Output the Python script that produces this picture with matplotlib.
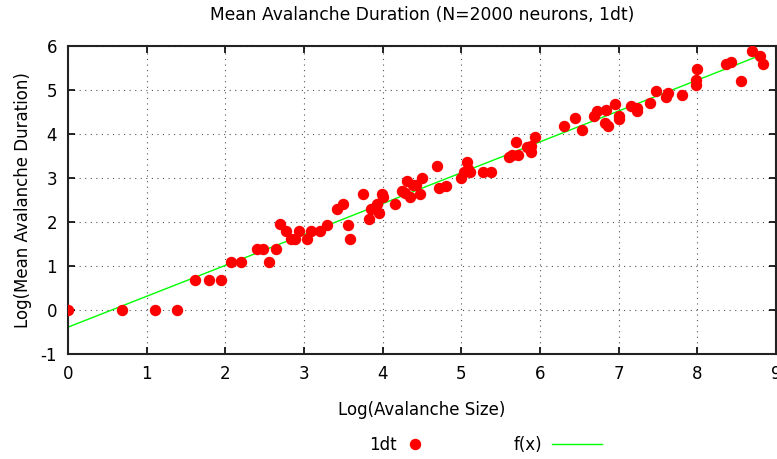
import matplotlib.pyplot as plt
import numpy as np

plt.rcParams['axes.unicode_minus'] = False

# log(avalanche size), log(mean duration)
log_size = [0.0, 0.69, 1.1, 1.39, 1.61, 1.79, 1.94, 2.07, 2.2, 2.4, 2.48, 2.56, 2.64,
            2.7, 2.77, 2.83, 2.89, 2.94, 3.04, 3.09, 3.2, 3.29, 3.42, 3.5, 3.56, 3.58,
            3.75, 3.83, 3.85, 3.93, 3.95, 3.99, 4.01, 4.16, 4.25, 4.29, 4.31, 4.35,
            4.38, 4.43, 4.48, 4.5, 4.69, 4.71, 4.8, 5.0, 5.03, 5.07, 5.09, 5.11, 5.28,
            5.38, 5.61, 5.65, 5.7, 5.72, 5.84, 5.88, 5.88, 5.94, 6.3, 6.45, 6.54, 6.69,
            6.72, 6.82, 6.84, 6.87, 6.95, 7.01, 7.01, 7.16, 7.23, 7.23, 7.4, 7.47, 7.6,
            7.63, 7.81, 7.98, 7.98, 7.99, 8.37, 8.43, 8.55, 8.7, 8.8, 8.83]
log_dur = [0.0, 0.0, 0.0, 0.0, 0.69, 0.69, 0.69, 1.1, 1.1, 1.39, 1.39, 1.1, 1.39,
           1.95, 1.79, 1.61, 1.61, 1.79, 1.61, 1.79, 1.79, 1.93, 2.3, 2.41, 1.93, 1.61,
           2.64, 2.07, 2.3, 2.41, 2.2, 2.64, 2.57, 2.41, 2.7, 2.66, 2.93, 2.57,
           2.84, 2.84, 2.64, 3.0, 3.27, 2.77, 2.82, 3.0, 3.14, 3.36, 3.2, 3.14, 3.14,
           3.14, 3.48, 3.52, 3.82, 3.52, 3.7, 3.73, 3.59, 3.93, 4.18, 4.36, 4.09, 4.41,
           4.52, 4.25, 4.55, 4.18, 4.68, 4.41, 4.34, 4.64, 4.59, 4.52, 4.7, 4.98, 4.84,
           4.93, 4.89, 5.11, 5.23, 5.48, 5.59, 5.64, 5.2, 5.89, 5.77, 5.59]

# fitted line f(x) = a*x + b
fit_a = 0.702
fit_b = -0.39

fig = plt.figure(figsize=(7.77, 4.59), dpi=100)
ax = fig.add_axes([68 / 777, 105 / 459, 708 / 777, 308 / 459])

pts, = ax.plot(log_size, log_dur, 'o', color='#ff0000', markersize=7.2, label='1dt', zorder=3)
xs = np.array([min(log_size), max(log_size)])
fit, = ax.plot(xs, fit_a * xs + fit_b, '-', color='#00ff00', linewidth=1, label='f(x)', zorder=2)

ax.set_xlim(0, 9)
ax.set_ylim(-1, 6)
ax.set_xticks(range(0, 10))
ax.set_yticks(range(-1, 7))
ax.grid(True, linestyle=(0, (1, 4)), color='#555555', linewidth=0.8)
ax.tick_params(direction='in', top=True, right=True, length=5, width=1.2, labelsize=12, pad=8)
for s in ax.spines.values():
    s.set_linewidth(1.5)
    s.set_color('#222222')

ax.set_title('Mean Avalanche Duration (N=2000 neurons, 1dt)', fontsize=12.3, pad=18.5)
ax.set_xlabel('Log(Avalanche Size)', fontsize=12, labelpad=13)
ax.set_ylabel('Log(Mean Avalanche Duration)', fontsize=12, labelpad=6)

fig.legend(handles=[pts], loc='center', bbox_to_anchor=(396 / 777, 1 - 445 / 459),
           frameon=False, markerfirst=False, fontsize=12, handlelength=1.0,
           handletextpad=0.6)
fig.legend(handles=[fit], loc='center', bbox_to_anchor=(558 / 777, 1 - 445 / 459),
           frameon=False, markerfirst=False, fontsize=12, handlelength=3.0,
           handletextpad=0.6)

fig.savefig('out.png', dpi=100)
